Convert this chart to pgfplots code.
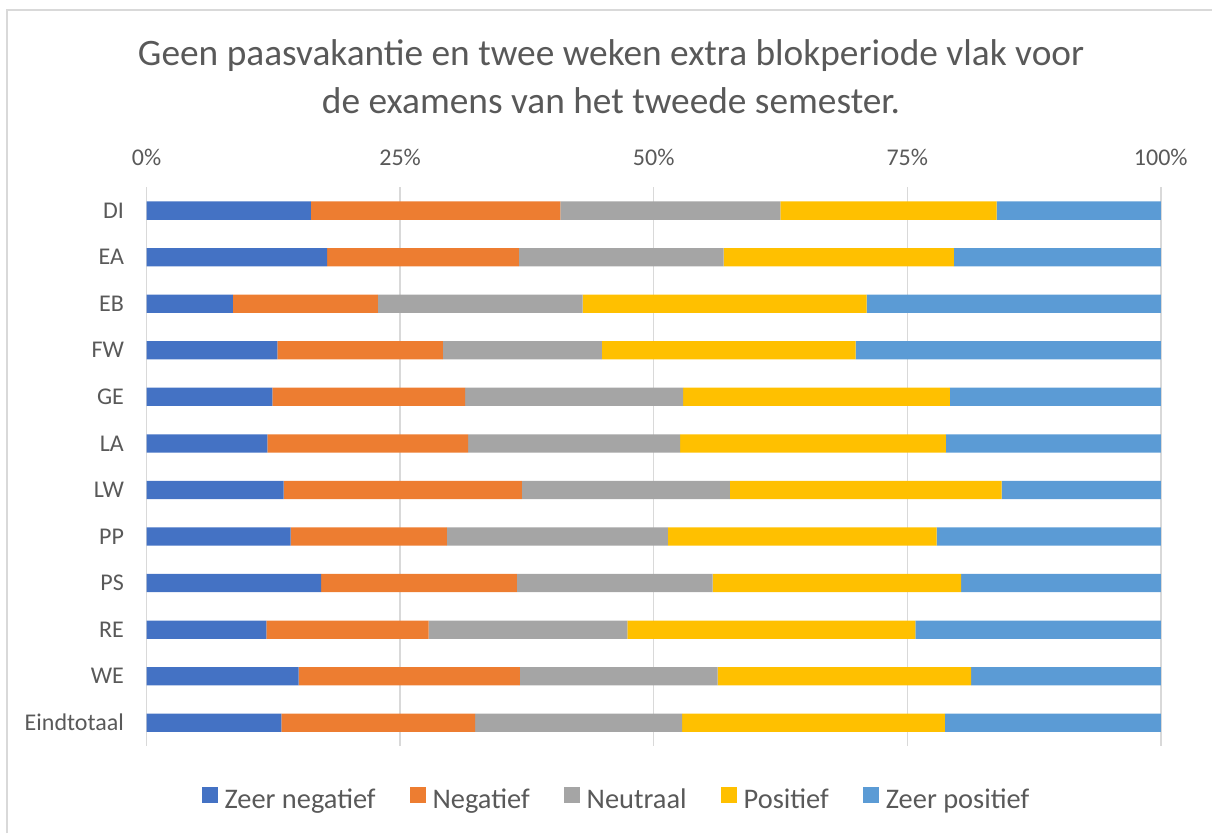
\documentclass[border=0pt]{standalone}
\usepackage{pgfplots}
\pgfplotsset{compat=1.18}
\usepackage{fontspec}
\setmainfont{Carlito}
\definecolor{cA}{HTML}{4472C4}
\definecolor{cB}{HTML}{ED7D31}
\definecolor{cC}{HTML}{A5A5A5}
\definecolor{cD}{HTML}{FFC000}
\definecolor{cE}{HTML}{5B9BD5}
\definecolor{txt}{HTML}{595959}
\definecolor{grd}{HTML}{D9D9D9}
\begin{document}
\begin{tikzpicture}[x=0.75pt,y=-0.75pt]
\path[use as bounding box] (0,0) rectangle (1212,833);
\draw[grd,line width=1.5pt] (7,833) -- (7,10) -- (1212,10);
\node[txt,font=\fontsize{28}{32}\selectfont] at (611,56) {Geen paasvakantie en twee weken extra blokperiode vlak voor};
\node[txt,font=\fontsize{28}{32}\selectfont] at (611,101) {de examens van het tweede semester.};
\coordinate (ll) at (146.6,746);
\begin{axis}[
  at={(ll)}, anchor=south west,
  scale only axis,
  width=760.65pt, height=419pt,
  xbar stacked,
  bar width=13.7pt,
  xmin=0, xmax=100,
  ymin=-0.5, ymax=11.5,
  y dir=reverse,
  ytick={0,...,11},
  yticklabels={DI,EA,EB,FW,GE,LA,LW,PP,PS,RE,WE,Eindtotaal},
  xtick={0,25,50,75,100},
  xticklabels={0\%,25\%,50\%,75\%,100\%},
  xticklabel pos=upper,
  xmajorgrids,
  grid style={grd,line width=1.1pt},
  axis line style={draw=none},
  major tick style={draw=none},
  tick label style={txt,font=\fontsize{18}{22}\selectfont},
  yticklabel style={xshift=-13.5pt},
  xticklabel style={yshift=12.5pt},
  legend columns=5,
  legend style={at={(0.4638,-0.0967)}, anchor=center, draw=none, fill=none,
    font=\fontsize{21.3}{25}\selectfont, text=txt, inner sep=0pt,
    /tikz/every odd column/.append style={column sep=3pt},
    /tikz/every even column/.append style={column sep=24pt}},
  legend image code/.code={\fill[#1] (0pt,-2pt) rectangle (11.8pt,9.8pt);},
]
\addplot[fill=cA,draw=none] coordinates {(16.2,0) (17.8,1) (8.5,2) (12.9,3) (12.4,4) (11.9,5) (13.5,6) (14.2,7) (17.2,8) (11.8,9) (15.0,10) (13.3,11)};
\addplot[fill=cB,draw=none] coordinates {(24.6,0) (18.9,1) (14.3,2) (16.3,3) (19.0,4) (19.8,5) (23.5,6) (15.4,7) (19.3,8) (16.0,9) (21.8,10) (19.1,11)};
\addplot[fill=cC,draw=none] coordinates {(21.7,0) (20.2,1) (20.2,2) (15.7,3) (21.5,4) (20.9,5) (20.5,6) (21.8,7) (19.3,8) (19.6,9) (19.5,10) (20.4,11)};
\addplot[fill=cD,draw=none] coordinates {(21.3,0) (22.7,1) (28.0,2) (25.0,3) (26.3,4) (26.2,5) (26.8,6) (26.5,7) (24.5,8) (28.4,9) (25.0,10) (25.9,11)};
\addplot[fill=cE,draw=none] coordinates {(16.2,0) (20.4,1) (29.0,2) (30.1,3) (20.8,4) (21.2,5) (15.7,6) (22.1,7) (19.7,8) (24.2,9) (18.7,10) (21.3,11)};
\legend{Zeer negatief,Negatief,Neutraal,Positief,Zeer positief}
\end{axis}
\end{tikzpicture}
\end{document}
